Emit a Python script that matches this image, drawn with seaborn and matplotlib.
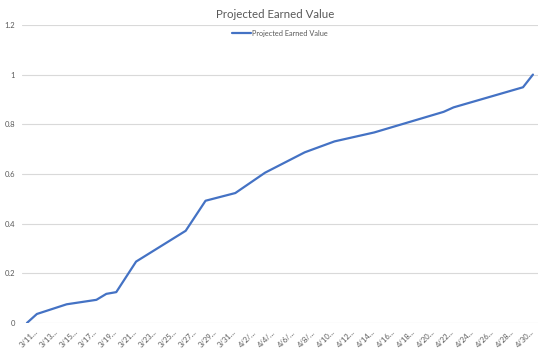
import numpy as np
import pandas as pd
import matplotlib
matplotlib.use("Agg")
import matplotlib.pyplot as plt
import matplotlib.transforms as mtransforms
import seaborn as sns

# day index from 3/11 (0) to 5/1 (51), value at each bend of the line
days = [0, 1, 4, 7, 8, 9, 11, 16, 18, 21, 24, 28, 31, 35, 42, 43, 50, 51]
earned = [0.0, 0.036, 0.075, 0.093, 0.117, 0.124, 0.247, 0.371, 0.492, 0.523,
          0.605, 0.687, 0.731, 0.767, 0.850, 0.868, 0.949, 1.0]

tick_days = list(range(0, 51, 2))
tick_labels = ["3/11...", "3/13...", "3/15...", "3/17...", "3/19...", "3/21...",
               "3/23...", "3/25...", "3/27...", "3/29...", "3/31...", "4/2/...",
               "4/4/...", "4/6/...", "4/8/...", "4/10...", "4/12...", "4/14...",
               "4/16...", "4/18...", "4/20...", "4/22...", "4/24...", "4/26...",
               "4/28...", "4/30..."]
y_ticks = [0, 0.2, 0.4, 0.6, 0.8, 1.0, 1.2]
y_labels = ["0", "0.2", "0.4", "0.6", "0.8", "1", "1.2"]

df = pd.DataFrame({"day": days, "value": earned})

sns.set_style("white")
plt.rcParams["font.family"] = ["Lato", "DejaVu Sans"]

fig = plt.figure(figsize=(5.5, 3.51), dpi=100)
ax = fig.add_axes([0.04, 0.08, 0.938, 0.849])

sns.lineplot(data=df, x="day", y="value", ax=ax, color="#4472C4",
             linewidth=1.6, label="Projected Earned Value")

ax.set_xlim(-0.5, 51.5)
ax.set_ylim(0, 1.2)
ax.set_yticks(y_ticks)
ax.set_yticklabels(y_labels)
ax.set_xticks(tick_days)
ax.set_xticklabels(tick_labels, rotation=45, ha="right", rotation_mode="anchor")
ax.tick_params(axis="both", length=0, labelsize=5.5, colors="#595959")
ax.tick_params(axis="y", pad=5)
ax.tick_params(axis="x", pad=3)
shift = mtransforms.ScaledTranslation(5 / 72, -1 / 72, fig.dpi_scale_trans)
for lbl in ax.get_xticklabels():
    lbl.set_transform(lbl.get_transform() + shift)
ax.grid(axis="y", color="#d9d9d9", linewidth=0.8)
ax.set_axisbelow(True)
for s in ax.spines.values():
    s.set_visible(False)
ax.set_xlabel("")
ax.set_ylabel("")

fig.text(0.5, 0.96, "Projected Earned Value", ha="center", va="center",
         fontsize=8.3, color="#595959")
ax.legend(loc="upper center", bbox_to_anchor=(0.5, 1.005), frameon=False,
          fontsize=5.3, labelcolor="#595959", handlelength=2.5,
          handletextpad=0.2)

fig.savefig("out.png", dpi=100)
